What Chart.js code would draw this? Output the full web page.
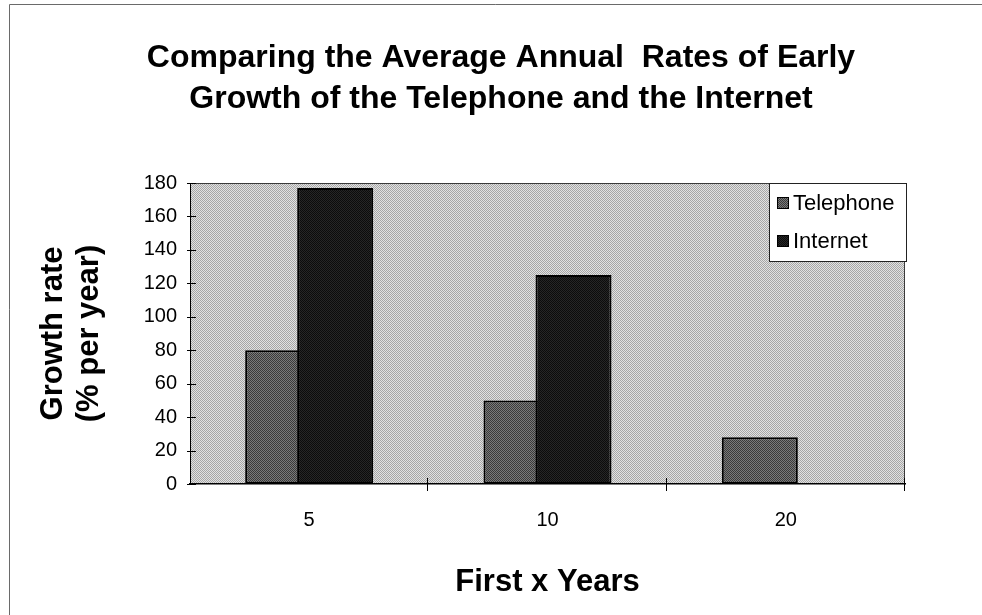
<!DOCTYPE html>
<html>
<head>
<meta charset="utf-8">
<style>
  html, body { margin: 0; padding: 0; background: #fff; }
  #wrap { width: 982px; height: 615px; position: relative; }
  canvas { display: block; }
</style>
<script src="https://cdn.jsdelivr.net/npm/chart.js@4.4.1/dist/chart.umd.min.js"></script>
</head>
<body>
<div id="wrap"><canvas id="chart" width="982" height="615"></canvas></div>
<script>
// ---- data ----
const categories = ['5', '10', '20'];
const seriesNames = ['Telephone', 'Internet'];
const telephoneRates = [80, 50, 28];
const internetRates = [177, 125, null];
const yMin = 0;
const yMax = 180;
const yStep = 20;
const titleLines = ['Comparing the Average Annual  Rates of Early', 'Growth of the Telephone and the Internet'];
const yTitleLines = ['Growth rate', '(% per year)'];
const xTitleText = 'First x Years';

const FONT = "'Liberation Sans', Arial, Helvetica, sans-serif";

// 2x2 halftone-like fills
function checker(a, b) {
  const c = document.createElement('canvas');
  c.width = 2; c.height = 2;
  const g = c.getContext('2d');
  g.fillStyle = a; g.fillRect(0, 0, 2, 2);
  g.fillStyle = b; g.fillRect(0, 0, 1, 1); g.fillRect(1, 1, 1, 1);
  return g.createPattern(c, 'repeat');
}
const plotFill = checker('#e2e2e2', '#a6a6a6');
const telFill = checker('#7a7a7a', '#3a3a3a');
const netFill = checker('#262626', '#0c0c0c');

// page frame and plot background
const backdrop = {
  id: 'backdrop',
  beforeDraw(chart) {
    const { ctx, chartArea: a } = chart;
    ctx.save();
    ctx.fillStyle = '#fff';
    ctx.fillRect(0, 0, chart.width, chart.height);
    ctx.strokeStyle = '#6a6a6a';
    ctx.lineWidth = 1;
    ctx.beginPath();
    ctx.moveTo(9.5, chart.height);
    ctx.lineTo(9.5, 4.5);
    ctx.lineTo(chart.width, 4.5);
    ctx.stroke();
    ctx.fillStyle = plotFill;
    ctx.fillRect(a.left, a.top, a.right - a.left, a.bottom - a.top);
    ctx.strokeStyle = '#3a3a3a';
    ctx.beginPath();
    ctx.moveTo(a.left, a.top + 0.5);
    ctx.lineTo(a.right - 0.5, a.top + 0.5);
    ctx.lineTo(a.right - 0.5, a.bottom);
    ctx.stroke();
    ctx.restore();
  }
};

// draw the second series after the first so its bars sit on top
const drawOrder = {
  id: 'drawOrder',
  beforeDatasetDraw(chart, args) {
    if (args.index === 1) return false;
  },
  afterDatasetDraw(chart, args) {
    if (args.index === 0) {
      const meta = chart.getDatasetMeta(1);
      if (meta && !meta.hidden) meta.controller.draw();
    }
  }
};

// crossing tick marks and the boxed legend
const decor = {
  id: 'decor',
  afterDatasetsDraw(chart) {
    const { ctx, chartArea: a, scales } = chart;
    const ys = scales.y, xs = scales.x;
    ctx.save();
    ctx.strokeStyle = '#000';
    ctx.lineWidth = 1;
    ctx.beginPath();
    ys.ticks.forEach(t => {
      const py = Math.round(ys.getPixelForValue(t.value)) + 0.5;
      ctx.moveTo(a.left - 3, py);
      ctx.lineTo(a.left + 6, py);
    });
    for (let i = 0; i < categories.length; i++) {
      const px = Math.round(xs.getPixelForValue(i + 0.5)) - 0.5;
      ctx.moveTo(px, a.bottom - 6);
      ctx.lineTo(px, a.bottom + 7);
    }
    ctx.stroke();

    // legend box
    const bx = a.right - 136, by = a.top, bw = 138, bh = 79;
    ctx.fillStyle = '#fff';
    ctx.fillRect(bx, by, bw, bh);
    ctx.strokeStyle = '#222';
    ctx.strokeRect(bx + 0.5, by + 0.5, bw - 1, bh - 1);
    ctx.font = '22px ' + FONT;
    ctx.textBaseline = 'middle';
    ctx.textAlign = 'left';
    chart.data.datasets.forEach((ds, i) => {
      const cy = by + 20 + i * 38;
      ctx.fillStyle = ds.backgroundColor;
      ctx.fillRect(bx + 8, cy - 6, 12, 12);
      ctx.strokeStyle = '#000';
      ctx.strokeRect(bx + 8.5, cy - 5.5, 11, 11);
      ctx.fillStyle = '#000';
      ctx.fillText(ds.label, bx + 24, cy + 1);
    });
    ctx.restore();
  }
};

const barOpts = {
  borderColor: '#000',
  borderWidth: 2,
  borderSkipped: false,
  categoryPercentage: 0.4364,
  barPercentage: 1.4615
};

new Chart(document.getElementById('chart'), {
  type: 'bar',
  data: {
    labels: categories,
    datasets: [
      Object.assign({ label: seriesNames[0], data: telephoneRates, backgroundColor: telFill }, barOpts),
      Object.assign({ label: seriesNames[1], data: internetRates, backgroundColor: netFill }, barOpts)
    ]
  },
  options: {
    responsive: false,
    animation: false,
    events: [],
    layout: { padding: { left: 20, right: 0, top: 0, bottom: 0 } },
    plugins: {
      legend: { display: false },
      tooltip: { enabled: false },
      title: {
        display: true,
        text: titleLines,
        color: '#000',
        font: { family: FONT, size: 32, weight: 'bold', lineHeight: 41 / 32 },
        padding: { top: 38, bottom: 63 }
      }
    },
    scales: {
      x: {
        offset: true,
        grid: { display: false, drawTicks: true, tickLength: 8 },
        border: { display: true, color: '#000', width: 1.5 },
        ticks: { color: '#000', font: { family: FONT, size: 20 }, padding: 16, maxRotation: 0 },
        title: {
          display: true, text: xTitleText, color: '#000',
          font: { family: FONT, size: 31, weight: 'bold', lineHeight: 1.2 },
          padding: { top: 0, bottom: 14 }
        },
        afterFit(s) { s.height = 131; }
      },
      y: {
        min: yMin, max: yMax,
        grid: { display: false, drawTicks: true, tickLength: 8 },
        border: { display: true, color: '#000', width: 1 },
        ticks: { stepSize: yStep, color: '#000', font: { family: FONT, size: 20 }, padding: 5 },
        title: {
          display: true, text: yTitleLines, color: '#000',
          font: { family: FONT, size: 31, weight: 'bold', lineHeight: 36 / 31 },
          padding: { top: 15, bottom: 0 }
        },
        afterFit(s) { s.width = 170; }
      },
      gutter: {
        type: 'linear', position: 'right', display: true,
        grid: { display: false, drawTicks: false },
        border: { display: false },
        ticks: { display: false },
        afterFit(s) { s.width = 77; }
      }
    }
  },
  plugins: [backdrop, drawOrder, decor]
});
</script>
</body>
</html>
